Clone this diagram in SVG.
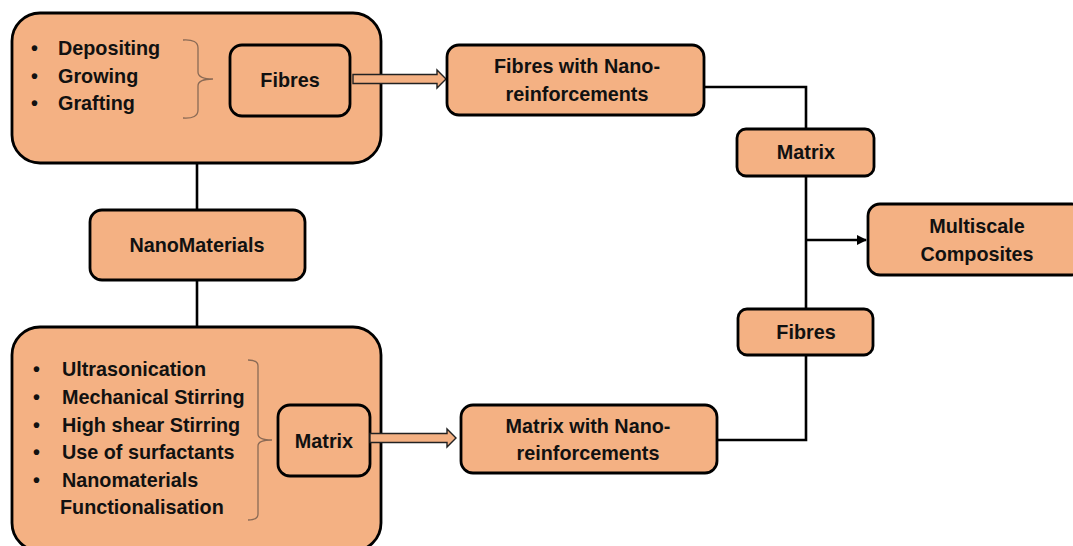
<svg xmlns="http://www.w3.org/2000/svg" width="1073" height="546" viewBox="0 0 1073 546">
<defs>
<style>
.box{fill:#F4B183;stroke:#000;stroke-width:2.8}
.t{font-family:"Liberation Sans",Arial,sans-serif;font-weight:bold;font-size:19.8px;fill:#111}
.c{text-anchor:middle}
.ln{fill:none;stroke:#000;stroke-width:2.6}
.br{fill:none;stroke:#8a6a55;stroke-width:1.3}
.blk{fill:#F4B183;stroke:#222;stroke-width:1.4}
</style>
<marker id="ah" viewBox="0 0 10 10" refX="9" refY="5" markerWidth="4" markerHeight="4" orient="auto" markerUnits="strokeWidth">
<path d="M0,0 L10,5 L0,10 z" fill="#000"/>
</marker>
</defs>
<rect width="1073" height="546" fill="#fff"/>
<g id="connectors">
<line class="ln" x1="197" y1="164" x2="197" y2="211"/>
<line class="ln" x1="197" y1="280" x2="197" y2="327"/>
<polyline class="ln" points="704,87 806,87 806,129"/>
<line class="ln" x1="806" y1="176" x2="806" y2="309"/>
<polyline class="ln" points="806,355 806,440 717,440"/>
<line class="ln" x1="806" y1="240" x2="866" y2="240" marker-end="url(#ah)"/>
</g>
<g id="top-process">
<rect class="box" x="12" y="13" width="369" height="150" rx="28"/>
<text class="t" x="31" y="55">•</text>
<text class="t" x="58" y="55">Depositing</text>
<text class="t" x="31" y="83">•</text>
<text class="t" x="58" y="83">Growing</text>
<text class="t" x="31" y="110">•</text>
<text class="t" x="58" y="110">Grafting</text>
<path class="br" d="M183,40 Q198,39 198,48 L198,72 Q198,79 213,79 Q198,79 198,86 L198,110 Q198,119 183,118"/>
<g id="fibres-inner">
<rect class="box" x="230" y="45" width="120" height="71" rx="12"/>
<text class="t c" x="290" y="87">Fibres</text>
</g>
</g>
<g id="arrow-top">
<path class="blk" d="M353,74.5 L437,74.5 L437,70 L446,79 L437,88 L437,83.5 L353,83.5 z"/>
</g>
<g id="fibres-nano">
<rect class="box" x="447" y="45" width="257" height="70" rx="12"/>
<text class="t c" x="577" y="73">Fibres with Nano-</text>
<text class="t c" x="577" y="101">reinforcements</text>
</g>
<g id="matrix-right">
<rect class="box" x="737" y="129" width="137" height="47" rx="9"/>
<text class="t c" x="806" y="159">Matrix</text>
</g>
<g id="multiscale">
<rect class="box" x="868" y="204" width="216" height="71" rx="12"/>
<text class="t c" x="977" y="233">Multiscale</text>
<text class="t c" x="977" y="261">Composites</text>
</g>
<g id="nanomaterials">
<rect class="box" x="90" y="210" width="215" height="70" rx="12"/>
<text class="t c" x="197" y="252">NanoMaterials</text>
</g>
<g id="fibres-right">
<rect class="box" x="738" y="309" width="135" height="46" rx="9"/>
<text class="t c" x="806" y="339">Fibres</text>
</g>
<g id="matrix-nano">
<rect class="box" x="461" y="405" width="256" height="68" rx="12"/>
<text class="t c" x="588" y="433">Matrix with Nano-</text>
<text class="t c" x="588" y="460">reinforcements</text>
</g>
<g id="bottom-process">
<rect class="box" x="12" y="327" width="369" height="224" rx="28"/>
<text class="t" x="33" y="376">•</text>
<text class="t" x="62" y="376">Ultrasonication</text>
<text class="t" x="33" y="404">•</text>
<text class="t" x="62" y="404">Mechanical Stirring</text>
<text class="t" x="33" y="432">•</text>
<text class="t" x="62" y="432">High shear Stirring</text>
<text class="t" x="33" y="459">•</text>
<text class="t" x="62" y="459">Use of surfactants</text>
<text class="t" x="33" y="487">•</text>
<text class="t" x="62" y="487">Nanomaterials</text>
<text class="t" x="60" y="514">Functionalisation</text>
<path class="br" d="M248,360 Q258,360 258,366 L258,434 Q258,440 272,440 Q258,440 258,446 L258,514 Q258,520 248,520"/>
<g id="matrix-inner">
<rect class="box" x="278" y="405" width="92" height="71" rx="12"/>
<text class="t c" x="324" y="448">Matrix</text>
</g>
</g>
<g id="arrow-bottom">
<path class="blk" d="M370,433.5 L447,433.5 L447,429 L456,438 L447,447 L447,442.5 L370,442.5 z"/>
</g>
</svg>
